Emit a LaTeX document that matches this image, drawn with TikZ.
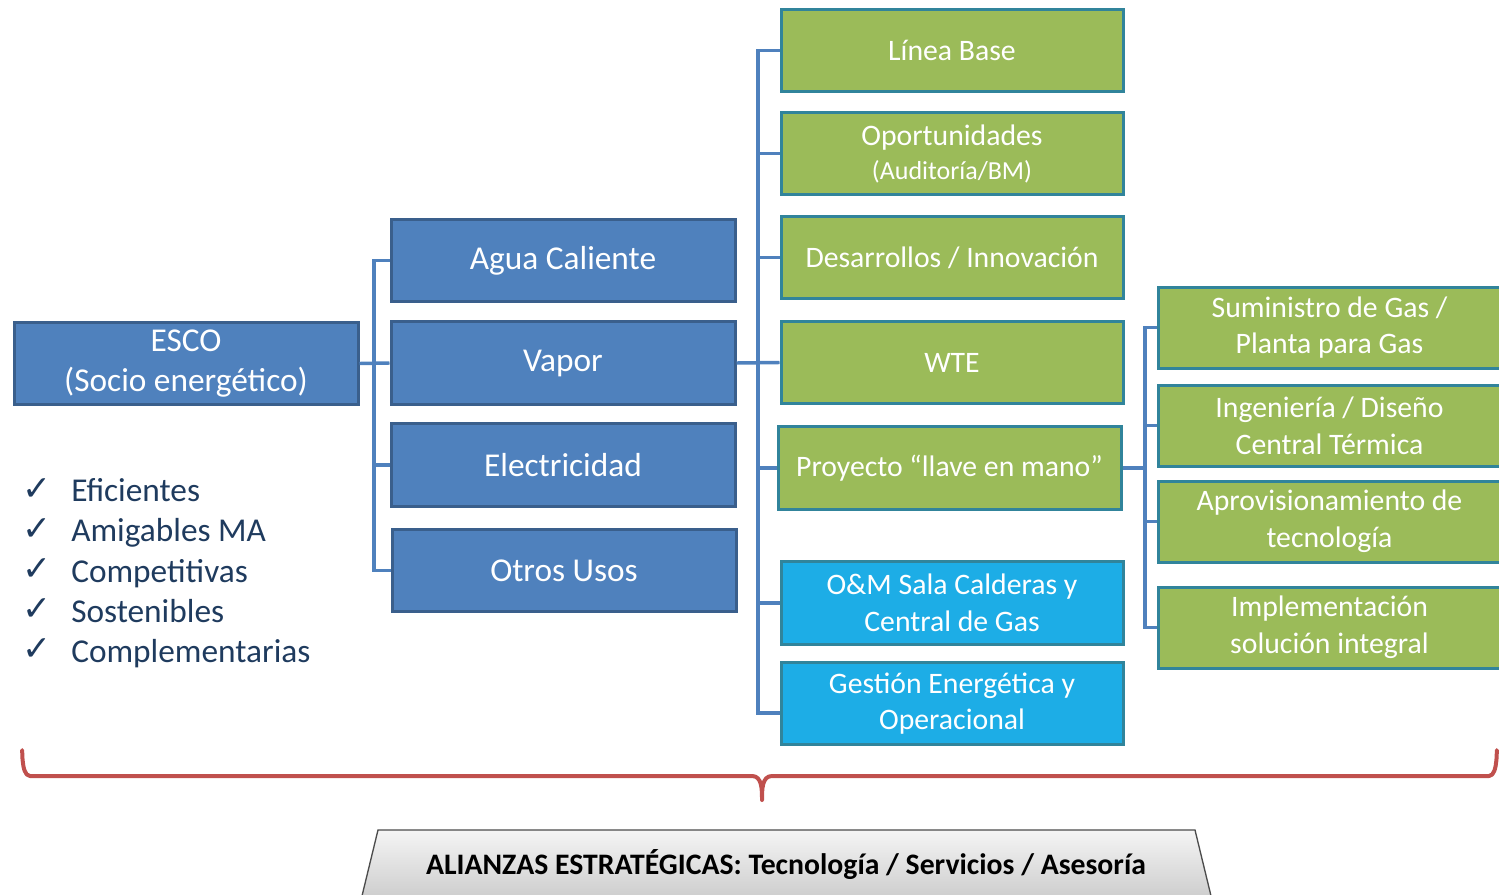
\documentclass[tikz,border=0pt]{standalone}
\usepackage{fontspec}
\setmainfont{Carlito}
\newfontfamily\dejavu{DejaVu Sans}
\usetikzlibrary{calc}
\definecolor{bfill}{HTML}{4F81BD}
\definecolor{bdraw}{HTML}{3A5F8C}
\definecolor{gfill}{HTML}{9BBB59}
\definecolor{tdraw}{HTML}{31849B}
\definecolor{cfill}{HTML}{1DADE6}
\definecolor{navy}{HTML}{1F3B5E}
\definecolor{rline}{HTML}{C0504D}
\begin{document}
\begin{tikzpicture}[x=0.75pt,y=-0.75pt,
  box/.style={rectangle, line width=2.25pt, text=white, align=center, inner sep=0pt},
  bluebox/.style={box, fill=bfill, draw=bdraw, minimum width=258pt, minimum height=62pt, font=\fontsize{25}{29.5}\selectfont},
  greenbox/.style={box, fill=gfill, draw=tdraw, minimum width=256.5pt, minimum height=62pt, font=\fontsize{22.3}{27.5}\selectfont},
  cyanbox/.style={greenbox, fill=cfill},
  rightbox/.style={greenbox, minimum width=257pt, minimum height=60.75pt},
  conn/.style={draw=bfill, line width=2.6pt},
  checkmark/.style={anchor=base west, text=navy, font=\dejavu\bfseries\fontsize{26}{28}\selectfont, inner sep=0pt},
  checktext/.style={anchor=base west, text=navy, font=\fontsize{25}{28}\selectfont, inner sep=0pt},
  brace/.style={draw=rline, line width=3pt, line join=round}
]
\useasboundingbox (0,0) rectangle (1499,895);
\clip (0,0) rectangle (1499,895);

% left column
\node[bluebox] (esco) at (186,363.5) {ESCO\\(Socio energético)};
\node[bluebox] (agua) at (563,260.5) {\raisebox{-2pt}{Agua Caliente}};
\node[bluebox] (vapor) at (563,363) {\raisebox{-2pt}{Vapor}};
\node[bluebox] (elec) at (563,465) {Electricidad};
\node[bluebox] (otros) at (564,570.5) {Otros Usos};

% middle column
\node[greenbox] (linea) at (952,50.5) {Línea Base};
\node[greenbox] (opor) at (952,153.5) {Oportunidades\\[-2pt]{\fontsize{19.5}{22}\selectfont (Auditoría/BM)}};
\node[greenbox] (desa) at (952,257.5) {Desarrollos / Innovación};
\node[greenbox] (wte) at (952,362.5) {WTE};
\node[greenbox, minimum width=257.25pt] (proy) at (949.5,468) {Proyecto “llave en mano”};
\node[cyanbox] (om) at (952,603) {O\&M Sala Calderas y\\Central de Gas};
\node[cyanbox] (gest) at (952,703.5) {Gestión Energética y\\Operacional};

% right column
\node[rightbox] (sumi) at (1329.5,327.5) {Suministro de Gas /\\Planta para Gas};
\node[rightbox] (inge) at (1329.5,425.5) {Ingeniería / Diseño\\Central Térmica};
\node[rightbox] (apro) at (1329.5,521.5) {Aprovisionamiento de\\tecnología};
\node[rightbox] (impl) at (1329.5,627.5) {Implementación\\solución integral};

% connectors
\coordinate (busA) at (374,363);
\draw[conn] (esco.east) -- (vapor.west);
\draw[conn] (agua.west) -| (busA) |- (otros.west);
\draw[conn] (busA |- elec.west) -- (elec.west);

\coordinate (busB) at (758,363);
\draw[conn] (vapor.east) -- (wte.west);
\draw[conn] (linea.west) -| (busB) |- ([yshift=-7pt]gest.west);
\draw[conn] (busB |- opor.west) -- (opor.west);
\draw[conn] (busB |- desa.west) -- (desa.west);
\draw[conn] (busB |- proy.west) -- (proy.west);
\draw[conn] (busB |- om.west) -- (om.west);

\coordinate (busC) at (1145,468);
\draw[conn] (proy.east) -- (busC);
\draw[conn] (sumi.west) -| (busC) |- (impl.west);
\draw[conn] (busC |- inge.west) -- (inge.west);
\draw[conn] (busC |- apro.west) -- (apro.west);

% checklist
\node[checkmark] (k1) at (22,500) {✓};
\node[checkmark] (k2) at (22,540) {✓};
\node[checkmark] (k3) at (22,580) {✓};
\node[checkmark] (k4) at (22,620) {✓};
\node[checkmark] (k5) at (22,660) {✓};
\node[checktext] (t1) at (71,501) {Eficientes};
\node[checktext] (t2) at (71,541) {Amigables MA};
\node[checktext] (t3) at (71,582) {Competitivas};
\node[checktext] (t4) at (71,622) {Sostenibles};
\node[checktext] (t5) at (71,662) {Complementarias};

% red bracket
\coordinate (bl) at (22,752);
\coordinate (br) at (1497,752);
\coordinate (btip) at (762,800);
\draw[brace] (bl) to[out=85,in=180] (30,776) -- (752,776) to[out=0,in=90] (btip)
  to[out=90,in=180] (772,776) -- (1489,776) to[out=0,in=95] (br);

% bottom trapezoid
\shade[top color=gray!8, bottom color=gray!40, draw=gray!60!black, line width=1pt]
  (378,830) -- (1195,830) -- (1212,900) -- (361,900) -- cycle;
\node[font=\bfseries\fontsize{22.3}{26}\selectfont, text=black] (alianzas) at (786,865)
  {ALIANZAS ESTRATÉGICAS: Tecnología / Servicios / Asesoría};
\end{tikzpicture}
\end{document}
